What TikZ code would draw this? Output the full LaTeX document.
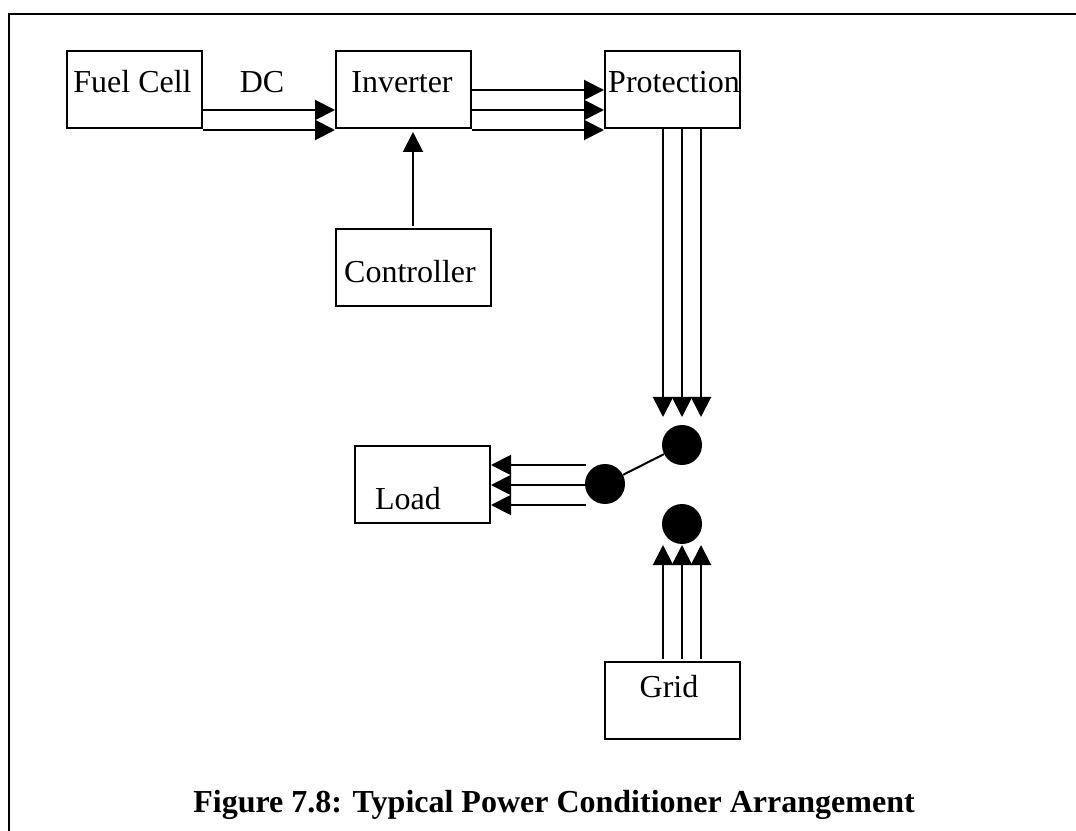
\documentclass[tikz,border=0pt]{standalone}
\usepackage{fontspec}
\setmainfont{Liberation Serif}
\usetikzlibrary{arrows.meta,calc}
\tikzset{
  x=0.75pt,y=-0.75pt,
  box/.style={draw=black,line width=1.5pt,inner sep=0pt,minimum width=#1*0.75pt},
  box/.default=135,
  lab/.style={anchor=base,inner sep=0pt,font=\fontsize{24pt}{24pt}\selectfont},
  wire/.style={draw=black,line width=1.5pt,-{Triangle[length=15pt,width=15pt]},shorten >=0pt},
  plain/.style={draw=black,line width=1.5pt},
  dot/.style={circle,fill=black,draw=none,minimum size=30pt,inner sep=0pt}
}
\begin{document}
\begin{tikzpicture}
\useasboundingbox (0,0) rectangle (1076,831);
\draw[plain] (9,831) -- (9,14) -- (1076,14);
% boxes
\node[box,minimum height=57.75pt] (fuel) at (134.5,89.5) {};
\node[box,minimum height=57.75pt] (inv) at (403.5,89.5) {};
\node[box,minimum height=57.75pt] (prot) at (672.5,89.5) {};
\node[box=155,minimum height=57.75pt] (ctrl) at (413.5,267.5) {};
\node[box,minimum height=57.75pt] (load) at (422.5,484.5) {};
\node[box,minimum height=57.75pt] (grid) at (672.5,700.5) {};
% labels
\node[lab] (tfuel) at (132.5,93) {Fuel Cell};
\node[lab] (tdc) at (262,93) {DC};
\node[lab] (tinv) at (402,93) {Inverter};
\node[lab] (tprot) at (674,93) {Protection};
\node[lab] (tctrl) at (410,283) {Controller};
\node[lab] (tload) at (408,509) {Load};
\node[lab] (tgrid) at (669,697) {Grid};
\node[anchor=base,inner sep=0pt,font=\fontsize{24pt}{24pt}\selectfont\bfseries] (cap) at (554,812) {Figure 7.8: Typical Power Conditioner Arrangement};
% dots
\node[dot] (s1) at (682,445) {};
\node[dot] (s2) at (605,484) {};
\node[dot] (s3) at (682,524) {};
% connectors
\draw[wire] ([yshift=-15.375pt]fuel.east) -- ([yshift=-15.375pt]inv.west);
\draw[wire] ([yshift=-30.375pt]fuel.east) -- ([yshift=-30.375pt]inv.west);
\draw[wire] ([yshift=-0.375pt]inv.east) -- ([yshift=-0.375pt]prot.west);
\draw[wire] ([yshift=-15.375pt]inv.east) -- ([yshift=-15.375pt]prot.west);
\draw[wire] ([yshift=-30.375pt]inv.east) -- ([yshift=-30.375pt]prot.west);
\draw[wire] ([xshift=-0.375pt,yshift=1.5pt]ctrl.north) -- ([xshift=7.125pt,yshift=-2.25pt]inv.south);
\coordinate (pd1) at (663,417);
\coordinate (pd2) at (682,417);
\coordinate (pd3) at (701,417);
\draw[wire] (prot.south -| pd1) -- (pd1);
\draw[wire] (prot.south -| pd2) -- (pd2);
\draw[wire] (prot.south -| pd3) -- (pd3);
\coordinate (gu1) at (663,545);
\coordinate (gu2) at (682,545);
\coordinate (gu3) at (701,545);
\draw[wire] ([yshift=1.5pt]grid.north -| gu1) -- (gu1);
\draw[wire] ([yshift=1.5pt]grid.north -| gu2) -- (gu2);
\draw[wire] ([yshift=1.5pt]grid.north -| gu3) -- (gu3);
\coordinate (lf1) at (586,465);
\coordinate (lf2) at (586,485);
\coordinate (lf3) at (586,505);
\draw[wire] (lf1) -- (load.east |- lf1);
\draw[wire] (lf2) -- (load.east |- lf2);
\draw[wire] (lf3) -- (load.east |- lf3);
\draw[plain] (s2) -- (s1);
\end{tikzpicture}
\end{document}
